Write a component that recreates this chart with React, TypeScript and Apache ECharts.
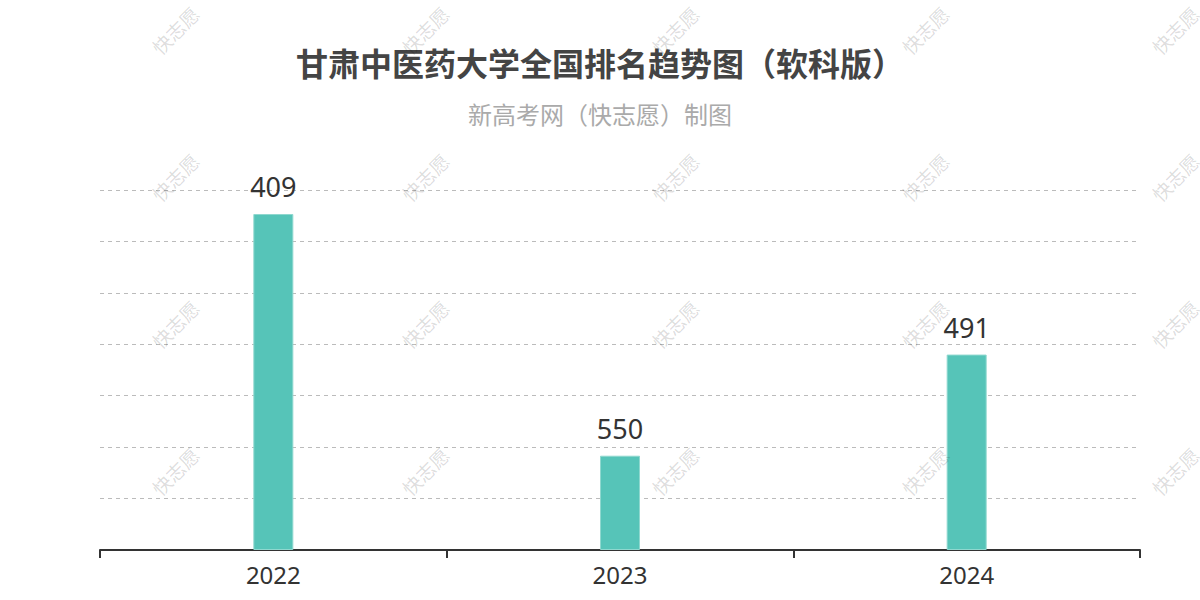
import React, { useEffect, useRef } from "react";
import * as echarts from "echarts";

const years = ["2022", "2023", "2024"];
const ranks = [409, 550, 491];
// rank axis: better rank = taller bar; bottom of the chart corresponds to rank 605
const rankFloor = 605;
const titleText = "甘肃中医药大学全国排名趋势图（软科版）";
const subtitleText = "新高考网（快志愿）制图";
const watermarkText = "快志愿";
const wmCols = [175, 425, 675, 925, 1175];
const wmRows = [30, 177, 324, 471];

export default function App() {
  const ref = useRef<HTMLDivElement>(null);
  useEffect(() => {
    if (!ref.current) return;
    const chart = echarts.init(ref.current, undefined, { renderer: "svg" });
    const font = "'Noto Sans', 'Noto Sans CJK SC', sans-serif";
    const wm: any[] = [];
    wmRows.forEach((y) =>
      wmCols.forEach((x) =>
        wm.push({
          type: "text",
          x,
          y,
          rotation: Math.PI / 4,
          silent: true,
          z: 100,
          style: {
            text: watermarkText,
            fill: "rgba(0,0,0,0.15)",
            font: `19px 'Noto Sans CJK SC', sans-serif`,
            align: "center",
            verticalAlign: "middle",
          },
        })
      )
    );
    chart.setOption({
      animation: false,
      textStyle: { fontFamily: font },
      title: [
        {
          text: titleText,
          left: "center",
          top: 41,
          textStyle: { fontSize: 32, fontWeight: "bold", color: "#444", fontFamily: "'Noto Sans CJK SC', sans-serif" },
        },
        {
          text: subtitleText,
          left: "center",
          top: 96,
          textStyle: { fontSize: 24, fontWeight: "normal", color: "#aaa", fontFamily: "'Noto Sans CJK SC', sans-serif" },
        },
      ],
      grid: { left: 100, right: 60, top: 190, bottom: 50, containLabel: false },
      xAxis: {
        type: "category",
        data: years,
        axisLine: { lineStyle: { color: "#333", width: 2 } },
        axisTick: { show: true, length: 8, lineStyle: { color: "#333", width: 2 } },
        axisLabel: { fontSize: 24, color: "#333", margin: 12, fontFamily: font },
      },
      yAxis: {
        type: "value",
        min: 0,
        max: 210,
        interval: 30,
        axisLine: { show: false },
        axisTick: { show: false },
        axisLabel: { show: false },
        splitLine: { lineStyle: { type: [4, 4], color: "#bbb", width: 1 } },
      },
      series: [
        {
          type: "bar",
          data: ranks.map((r) => ({ value: rankFloor - r, rank: r })),
          barWidth: 40,
          itemStyle: { color: "#56c4b8", borderColor: "#8fd8cf", borderWidth: 1 },
          label: {
            show: true,
            position: "top",
            distance: 14,
            fontSize: 27,
            color: "#333",
            fontFamily: font,
            formatter: (p: any) => String(p.data.rank),
          },
        },
      ],
      graphic: wm,
    });
    return () => chart.dispose();
  }, []);
  return <div ref={ref} style={{ position: "fixed", left: 0, top: 0, width: 1200, height: 600, background: "#fff" }} />;
}
